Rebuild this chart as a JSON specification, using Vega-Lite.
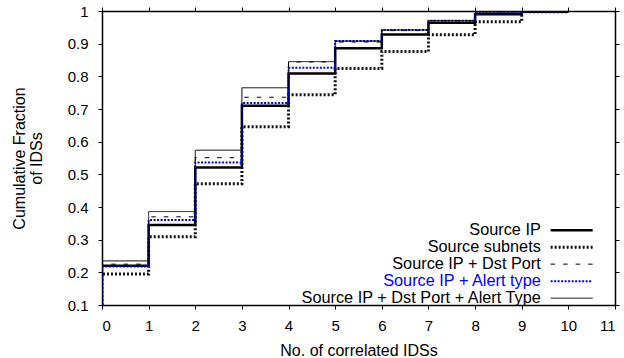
{
  "$schema": "https://vega.github.io/schema/vega-lite/v6.json",
  "width": 513,
  "height": 294,
  "autosize": {"type": "none"},
  "padding": {"left": 102, "top": 11, "right": 9, "bottom": 53},
  "background": "white",
  "config": {
    "font": "Liberation Sans",
    "view": {"stroke": null},
    "axis": {
      "grid": false,
      "domainColor": "black",
      "domainWidth": 1.5,
      "tickColor": "black",
      "tickWidth": 1,
      "tickSize": 4,
      "labelColor": "black",
      "labelFontSize": 15,
      "titleColor": "black",
      "titleFontSize": 16,
      "titleFontWeight": "normal"
    },
    "legend": {
      "labelFont": "Liberation Sans",
      "labelFontSize": 16.3,
      "labelColor": "black"
    }
  },
  "data": {
    "values": [
      {"s": "Source IP", "i": 0, "x": 0, "y": 0.1},
      {"s": "Source IP", "i": 1, "x": 0, "y": 0.22},
      {"s": "Source IP", "i": 2, "x": 1, "y": 0.345},
      {"s": "Source IP", "i": 3, "x": 2, "y": 0.521},
      {"s": "Source IP", "i": 4, "x": 3, "y": 0.71},
      {"s": "Source IP", "i": 5, "x": 4, "y": 0.809},
      {"s": "Source IP", "i": 6, "x": 5, "y": 0.886},
      {"s": "Source IP", "i": 7, "x": 6, "y": 0.928},
      {"s": "Source IP", "i": 8, "x": 7, "y": 0.964},
      {"s": "Source IP", "i": 9, "x": 8, "y": 0.99},
      {"s": "Source IP", "i": 10, "x": 9, "y": 0.998},
      {"s": "Source IP", "i": 11, "x": 10, "y": 0.998},
      {"s": "Source subnets", "i": 0, "x": 0, "y": 0.1},
      {"s": "Source subnets", "i": 1, "x": 0, "y": 0.195},
      {"s": "Source subnets", "i": 2, "x": 1, "y": 0.309},
      {"s": "Source subnets", "i": 3, "x": 2, "y": 0.471},
      {"s": "Source subnets", "i": 4, "x": 3, "y": 0.646},
      {"s": "Source subnets", "i": 5, "x": 4, "y": 0.744},
      {"s": "Source subnets", "i": 6, "x": 5, "y": 0.824},
      {"s": "Source subnets", "i": 7, "x": 6, "y": 0.876},
      {"s": "Source subnets", "i": 8, "x": 7, "y": 0.927},
      {"s": "Source subnets", "i": 9, "x": 8, "y": 0.967},
      {"s": "Source subnets", "i": 10, "x": 9, "y": 0.998},
      {"s": "Source subnets", "i": 11, "x": 10, "y": 0.998},
      {"s": "Source IP + Dst Port", "i": 0, "x": 0, "y": 0.1},
      {"s": "Source IP + Dst Port", "i": 1, "x": 0, "y": 0.225},
      {"s": "Source IP + Dst Port", "i": 2, "x": 1, "y": 0.37},
      {"s": "Source IP + Dst Port", "i": 3, "x": 2, "y": 0.551},
      {"s": "Source IP + Dst Port", "i": 4, "x": 3, "y": 0.736},
      {"s": "Source IP + Dst Port", "i": 5, "x": 4, "y": 0.844},
      {"s": "Source IP + Dst Port", "i": 6, "x": 5, "y": 0.905},
      {"s": "Source IP + Dst Port", "i": 7, "x": 6, "y": 0.94},
      {"s": "Source IP + Dst Port", "i": 8, "x": 7, "y": 0.97},
      {"s": "Source IP + Dst Port", "i": 9, "x": 8, "y": 0.993},
      {"s": "Source IP + Dst Port", "i": 10, "x": 9, "y": 0.999},
      {"s": "Source IP + Dst Port", "i": 11, "x": 10, "y": 0.999},
      {"s": "Source IP + Alert type", "i": 0, "x": 0, "y": 0.1},
      {"s": "Source IP + Alert type", "i": 1, "x": 0, "y": 0.218},
      {"s": "Source IP + Alert type", "i": 2, "x": 1, "y": 0.36},
      {"s": "Source IP + Alert type", "i": 3, "x": 2, "y": 0.536},
      {"s": "Source IP + Alert type", "i": 4, "x": 3, "y": 0.718},
      {"s": "Source IP + Alert type", "i": 5, "x": 4, "y": 0.826},
      {"s": "Source IP + Alert type", "i": 6, "x": 5, "y": 0.908},
      {"s": "Source IP + Alert type", "i": 7, "x": 6, "y": 0.942},
      {"s": "Source IP + Alert type", "i": 8, "x": 7, "y": 0.97},
      {"s": "Source IP + Alert type", "i": 9, "x": 8, "y": 0.993},
      {"s": "Source IP + Alert type", "i": 10, "x": 9, "y": 0.999},
      {"s": "Source IP + Alert type", "i": 11, "x": 10, "y": 0.999},
      {"s": "Source IP + Dst Port + Alert Type", "i": 0, "x": 0, "y": 0.1},
      {"s": "Source IP + Dst Port + Alert Type", "i": 1, "x": 0, "y": 0.235},
      {"s": "Source IP + Dst Port + Alert Type", "i": 2, "x": 1, "y": 0.386},
      {"s": "Source IP + Dst Port + Alert Type", "i": 3, "x": 2, "y": 0.574},
      {"s": "Source IP + Dst Port + Alert Type", "i": 4, "x": 3, "y": 0.765},
      {"s": "Source IP + Dst Port + Alert Type", "i": 5, "x": 4, "y": 0.845},
      {"s": "Source IP + Dst Port + Alert Type", "i": 6, "x": 5, "y": 0.908},
      {"s": "Source IP + Dst Port + Alert Type", "i": 7, "x": 6, "y": 0.942},
      {"s": "Source IP + Dst Port + Alert Type", "i": 8, "x": 7, "y": 0.971},
      {"s": "Source IP + Dst Port + Alert Type", "i": 9, "x": 8, "y": 0.994},
      {"s": "Source IP + Dst Port + Alert Type", "i": 10, "x": 9, "y": 0.999},
      {"s": "Source IP + Dst Port + Alert Type", "i": 11, "x": 10, "y": 0.999}
    ]
  },
  "layer": [
    {
      "mark": {"type": "line", "interpolate": "step-after", "clip": true},
      "encoding": {
        "x": {
          "field": "x", "type": "quantitative",
          "scale": {"domain": [0, 11], "nice": false, "zero": false},
          "axis": {"orient": "bottom", "values": [0,1,2,3,4,5,6,7,8,9,10,11], "labelPadding": 9, "title": "No. of correlated IDSs", "titlePadding": 9}
        },
        "y": {
          "field": "y", "type": "quantitative",
          "scale": {"domain": [0.1, 1], "nice": false, "zero": false},
          "axis": {"orient": "left", "values": [0.1,0.2,0.3,0.4,0.5,0.6,0.7,0.8,0.9,1], "format": ".1~f", "labelPadding": 10, "title": ["Cumulative Fraction", "of IDSs"], "titleFontSize": 16, "titleLineHeight": 17, "titlePadding": 23}
        },
        "order": {"field": "i", "type": "quantitative"},
        "color": {
          "field": "s", "type": "nominal",
          "scale": {
            "domain": ["Source IP", "Source subnets", "Source IP + Dst Port", "Source IP + Alert type", "Source IP + Dst Port + Alert Type"],
            "range": ["#000000", "#111111", "#000000", "#0000ff", "#000000"]
          },
          "legend": {
            "title": null, "orient": "none", "legendX": 461.5, "legendY": 211, "padding": 0,
            "labelAlign": "right", "labelOffset": -39, "labelLimit": 400, "labelFontSize": 16.3,
            "symbolType": "M-4.67,0H4.67", "symbolSize": 81, "rowPadding": 0,
            "encode": {"labels": {"update": {"fill": {"signal": "datum.label === 'Source IP + Alert type' ? '#0000ff' : '#000000'"}}}}
          }
        },
        "strokeDash": {
          "field": "s", "type": "nominal",
          "scale": {
            "domain": ["Source IP", "Source subnets", "Source IP + Dst Port", "Source IP + Alert type", "Source IP + Dst Port + Alert Type"],
            "range": [[1, 0], [2, 2], [4.5, 8], [2, 1.5], [1, 0]]
          },
          "legend": {
            "title": null, "orient": "none", "legendX": 461.5, "legendY": 211, "padding": 0,
            "labelAlign": "right", "labelOffset": -39, "labelLimit": 400, "labelFontSize": 16.3,
            "symbolType": "M-4.67,0H4.67", "symbolSize": 81, "rowPadding": 0,
            "encode": {"labels": {"update": {"fill": {"signal": "datum.label === 'Source IP + Alert type' ? '#0000ff' : '#000000'"}}}}
          }
        },
        "strokeWidth": {
          "field": "s", "type": "nominal",
          "scale": {
            "type": "ordinal",
            "domain": ["Source IP", "Source subnets", "Source IP + Dst Port", "Source IP + Alert type", "Source IP + Dst Port + Alert Type"],
            "range": [2.5, 3, 1, 2, 1]
          },
          "legend": {
            "title": null, "orient": "none", "legendX": 461.5, "legendY": 211, "padding": 0,
            "labelAlign": "right", "labelOffset": -39, "labelLimit": 400, "labelFontSize": 16.3,
            "symbolType": "M-4.67,0H4.67", "symbolSize": 81, "rowPadding": 0,
            "encode": {"labels": {"update": {"fill": {"signal": "datum.label === 'Source IP + Alert type' ? '#0000ff' : '#000000'"}}}}
          }
        }
      }
    },
    {
      "mark": {"type": "line", "opacity": 0},
      "encoding": {
        "x": {
          "field": "x", "type": "quantitative",
          "axis": {"orient": "top", "values": [0,1,2,3,4,5,6,7,8,9,10,11], "labels": false, "title": null}
        },
        "y": {
          "field": "y", "type": "quantitative",
          "axis": {"orient": "right", "values": [0.1,0.2,0.3,0.4,0.5,0.6,0.7,0.8,0.9,1], "labels": false, "title": null}
        },
        "detail": {"field": "s"}
      }
    }
  ],
  "resolve": {"axis": {"x": "independent", "y": "independent"}}
}
